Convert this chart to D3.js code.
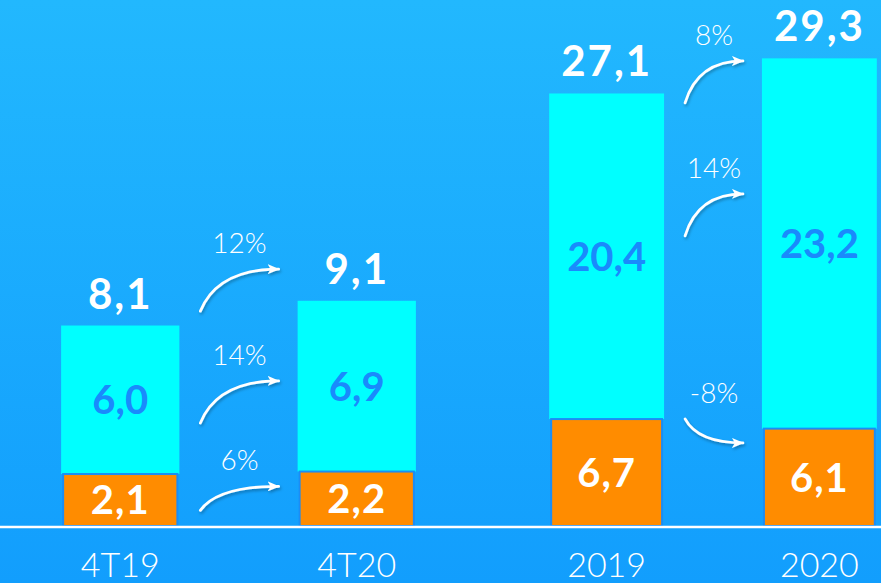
<!DOCTYPE html>
<html>
<head>
<meta charset="utf-8">
<script src="https://cdn.jsdelivr.net/npm/d3@7"></script>
<style>
  html, body { margin: 0; padding: 0; overflow: hidden; }
  svg { display: block; }
</style>
</head>
<body>
<svg id="chart" width="881" height="583"></svg>
<script>
// Quarterly comparison (left pair) and annual comparison (right pair)
const quarters = ["4T19", "4T20"];
const quarterOrange = [2.1, 2.2];
const quarterCyan = [6.0, 6.9];
const quarterTotal = [8.1, 9.1];
const quarterGrowth = ["12%", "14%", "6%"];     // total, cyan, orange

const years = ["2019", "2020"];
const yearOrange = [6.7, 6.1];
const yearCyan = [20.4, 23.2];
const yearTotal = [27.1, 29.3];
const yearGrowth = ["8%", "14%", "-8%"];

const W = 881, H = 583, baseY = 526;
const svg = d3.select("#chart");
const fmt = v => d3.format(".1f")(v).replace(".", ",");

// background gradient
const defs = svg.append("defs");
const grad = defs.append("linearGradient").attr("id", "bg")
  .attr("x1", 0).attr("y1", 0).attr("x2", 0).attr("y2", 1);
grad.append("stop").attr("offset", "0%").attr("stop-color", "#22b8fe");
grad.append("stop").attr("offset", "100%").attr("stop-color", "#129efd");
svg.append("rect").attr("width", W).attr("height", H).attr("fill", "url(#bg)");

const shadow = defs.append("filter").attr("id", "shadow")
  .attr("x", "-20%").attr("y", "-20%").attr("width", "150%").attr("height", "160%");
shadow.append("feDropShadow").attr("dx", 1).attr("dy", 2)
  .attr("stdDeviation", 1.5).attr("flood-color", "#000").attr("flood-opacity", 0.3);

defs.append("marker").attr("id", "head")
  .attr("viewBox", "0 0 12 10").attr("refX", 11).attr("refY", 5)
  .attr("markerWidth", 12).attr("markerHeight", 10)
  .attr("markerUnits", "userSpaceOnUse").attr("orient", "auto")
  .append("path").attr("d", "M0,0 L12,5 L0,10 L3,5 Z").attr("fill", "#fff");

const boldFont = "Lato, 'Open Sans', sans-serif";
const lightFont = "Lato, 'Open Sans', sans-serif";

// scales for each pair
const xQ = d3.scaleBand().domain(quarters).range([2, 475]).paddingInner(0.5).paddingOuter(0.25);
const yQ = d3.scaleLinear().domain([0, 10]).range([baseY, baseY - 247.5]);
const xY = d3.scaleBand().domain(years).range([496, 930]).paddingInner(0.46).paddingOuter(0.25);
const yY = d3.scaleLinear().domain([0, 30]).range([baseY, baseY - 478.8]);

function drawGroup(cats, orange, cyan, total, growth, x, y, rowOffsets) {
  const g = svg.append("g");
  const bw = x.bandwidth();
  const rows = cats.map((c, i) => ({ c, o: orange[i], cy: cyan[i], t: total[i] }));

  // cyan segment
  g.selectAll(".cy").data(rows).enter().append("rect")
    .attr("x", d => x(d.c)).attr("width", bw)
    .attr("y", d => y(d.o + d.cy)).attr("height", d => y(d.o) - y(d.o + d.cy))
    .attr("fill", "#00ffff");
  // orange segment
  g.selectAll(".or").data(rows).enter().append("rect")
    .attr("x", d => x(d.c) + 2).attr("width", bw - 4)
    .attr("y", d => y(d.o)).attr("height", d => y(0) - y(d.o))
    .attr("fill", "#ff8c00").attr("stroke", "#1b8df5").attr("stroke-width", 2);

  // totals
  g.selectAll(".tt").data(rows).enter().append("text")
    .attr("x", d => x(d.c) + bw / 2).attr("y", d => y(d.t) - 17)
    .attr("text-anchor", "middle").attr("fill", "#fff")
    .attr("font-family", boldFont).attr("font-weight", 700).attr("font-size", 42)
    .attr("letter-spacing", 2)
    .text(d => fmt(d.t));
  // cyan values
  g.selectAll(".ct").data(rows).enter().append("text")
    .attr("x", d => x(d.c) + bw / 2).attr("y", d => (y(d.o) + y(d.o + d.cy)) / 2)
    .attr("dy", "0.36em").attr("text-anchor", "middle").attr("fill", "#1a8afc")
    .attr("font-family", boldFont).attr("font-weight", 700).attr("font-size", 40)
    .text(d => fmt(d.cy));
  // orange values
  g.selectAll(".ot").data(rows).enter().append("text")
    .attr("x", d => x(d.c) + bw / 2).attr("y", d => (y(0) + y(d.o)) / 2)
    .attr("dy", "0.36em").attr("text-anchor", "middle").attr("fill", "#fff")
    .attr("font-family", boldFont).attr("font-weight", 700).attr("font-size", 40)
    .attr("letter-spacing", 1)
    .text(d => fmt(d.o));
  // category labels
  g.selectAll(".cat").data(rows).enter().append("text")
    .attr("x", d => x(d.c) + bw / 2).attr("y", 577)
    .attr("text-anchor", "middle").attr("fill", "#fff")
    .attr("font-family", lightFont).attr("font-weight", 300).attr("font-size", 34)
    .text(d => d.c);

  // growth arrows between the two bars: total, cyan, orange
  const a = rows[0], b = rows[1];
  const x0 = x(a.c) + bw + 21, x1 = x(b.c) - 19;
  const anchors = [
    [y(a.t), y(b.t)],
    [(y(a.o) + y(a.t)) / 2, (y(b.o) + y(b.t)) / 2],
    [(y(0) + y(a.o)) / 2, (y(0) + y(b.o)) / 2]
  ];
  const heights = [42, 42, 24];
  anchors.forEach((an, k) => {
    const c = (an[0] + an[1]) / 2 + rowOffsets[k];
    const h = heights[k];
    const down = growth[k].startsWith("-");
    const y0 = down ? c - h / 2 : c + h / 2;
    const y1 = down ? c + h / 2 : c - h / 2;
    const w = x1 - x0;
    g.append("path")
      .attr("d", `M${x0},${y0} Q${x0 + 0.22 * w},${y1} ${x1},${y1}`)
      .attr("fill", "none").attr("stroke", "#fff").attr("stroke-width", 2.8)
      .attr("stroke-linecap", "round")
      .attr("marker-end", "url(#head)").attr("filter", "url(#shadow)");
    g.append("text")
      .attr("x", (x0 + x1) / 2).attr("y", Math.min(y0, y1) - 26)
      .attr("dy", "0.36em").attr("text-anchor", "middle").attr("fill", "#fff")
      .attr("font-family", lightFont).attr("font-weight", 300).attr("font-size", 28)
      .text(growth[k]);
  });
}

drawGroup(quarters, quarterOrange, quarterCyan, quarterTotal, quarterGrowth, xQ, yQ, [-23, 9, -1]);
drawGroup(years, yearOrange, yearCyan, yearTotal, yearGrowth, xY, yY, [6, -35, -44]);

// baseline
svg.append("line").attr("x1", 0).attr("x2", W).attr("y1", baseY + 1).attr("y2", baseY + 1)
  .attr("stroke", "#fff").attr("stroke-width", 2.5);
</script>
</body>
</html>
